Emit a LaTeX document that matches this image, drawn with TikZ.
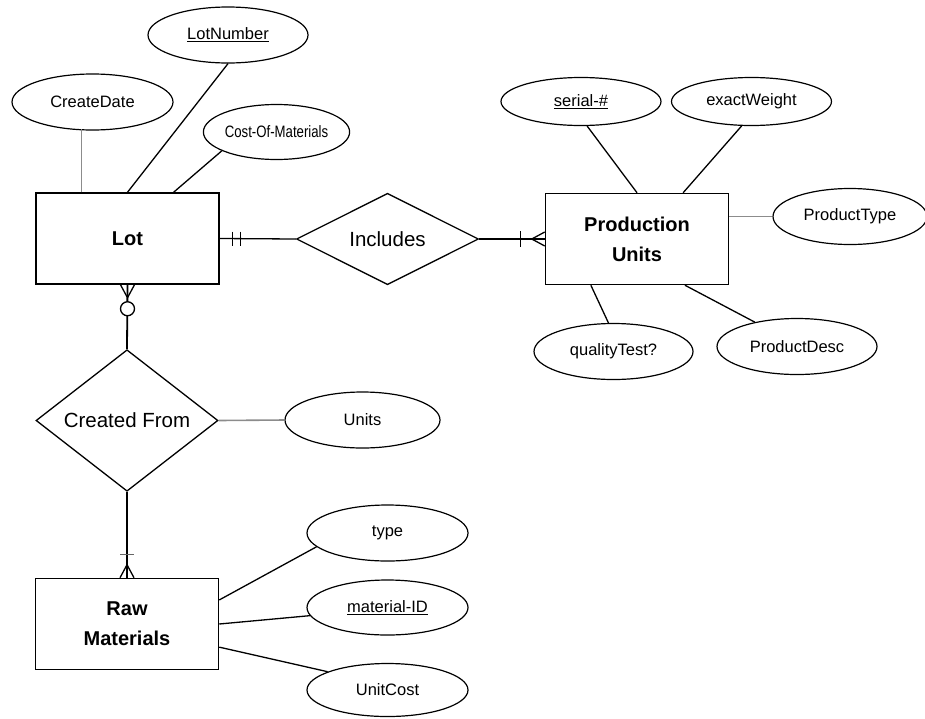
\documentclass[tikz,border=0pt]{standalone}
\usepackage{fontspec}
\usepackage{graphicx}
\setmainfont{Liberation Sans}
\usetikzlibrary{shapes.geometric,calc}

\tikzset{
  entity/.style={draw=black, line width=1.5pt, rectangle, minimum width=183pt,
    minimum height=91pt, inner sep=0pt, align=center,
    font=\fontsize{20}{30}\selectfont\bfseries},
  relation/.style={draw=black, line width=1.3pt, diamond, minimum width=182pt,
    minimum height=90pt, inner sep=0pt, font=\fontsize{20.5}{24}\selectfont},
  attr/.style={draw=black, line width=1.2pt, ellipse, minimum width=160pt,
    minimum height=56pt, inner sep=0pt, font=\fontsize{16.5}{19}\selectfont},
  link/.style={black, line width=1.3pt},
  softlink/.style={black!45, line width=1.6pt}
}

\begin{document}
\begin{tikzpicture}[x=1pt,y=-1pt]
\useasboundingbox (0,0) rectangle (925,718);
% entities
\node [entity] (lot) at (127.5,238.5) {Lot};
\node [entity] (prod) at (637,239) {Production\\Units};
\node [entity] (raw) at (127,624) {Raw\\Materials};
% relationships
\node [relation] (includes) at (387.5,239) {Includes};
\node [relation] (createdfrom) at (127,420.5) {Created From};
% attributes of Lot
\node [attr] (lotnumber) at (228,35) {\underline{LotNumber}};
\node [attr, minimum width=161pt] (createdate) at (92.5,102) {CreateDate};
\node [attr, minimum width=117pt, minimum height=55pt] (cost) at (276.5,132)
  {\scalebox{0.8}[1]{Cost-Of-Materials}};
% attributes of Production Units
\node [attr, minimum height=48pt] (serial) at (581,101.5) {\underline{serial-\#}};
\node [attr, minimum height=48pt] (exactweight) at (751.5,101.5) {exactWeight};
\node [attr, minimum width=154pt] (producttype) at (850,216.5) {ProductType};
\node [attr, minimum width=159pt] (qualitytest) at (613.5,351.5) {qualityTest?};
\node [attr] (productdesc) at (797,346.5) {ProductDesc};
% attributes of the rest
\node [attr, minimum width=155pt] (units) at (362.5,420) {Units};
\node [attr, minimum width=161pt] (type) at (387.5,533) {type};
\node [attr, minimum width=161pt, minimum height=55pt] (materialid) at (387.5,607.5)
  {\underline{material-ID}};
\node [attr, minimum width=161pt, minimum height=53pt] (unitcost) at (387.5,690) {UnitCost};

% attribute links
\draw [softlink] ($(lot.north west)!0.25!(lot.north east)$) -- ++(0,-63);
\draw [link] (lotnumber.south) -- (lot.north);
\draw [link] (cost.199) -- ($(lot.north west)!0.75!(lot.north east)$);
\draw [link] (serial.-76) -- (prod.north);
\draw [link] (exactweight.-112) -- ($(prod.north west)!0.75!(prod.north east)$);
\draw [softlink] (producttype.west) -- (prod.east |- producttype.west);
\draw [link] ($(prod.south west)!0.25!(prod.south east)$) -- (qualitytest.100);
\draw [link] ($(prod.south west)!0.76!(prod.south east)$) -- (productdesc.150);
\draw [softlink] (createdfrom.east) -- (units.west);
\draw [link] ($(raw.north east)!0.24!(raw.south east)$) -- (type.191);
\draw [link] (raw.east) -- (materialid.186);
\draw [link] ($(raw.north east)!0.75!(raw.south east)$) -- (unitcost.163);

% Lot -- Includes: one and only one
\draw [link] (lot.east) -- (includes.west);
\draw [link] ([xshift=13]lot.east) ++(0,-7) -- ++(0,14);
\draw [link] ([xshift=21]lot.east) ++(0,-7) -- ++(0,14);
% Includes -- Production Units: one or many
\draw [link] (includes.east) -- (prod.west);
\draw [link] ([xshift=-24]prod.west) ++(0,-8) -- ++(0,16);
\draw [link] ([xshift=-13]prod.west) -- ([yshift=-7]prod.west);
\draw [link] ([xshift=-13]prod.west) -- ([yshift=7]prod.west);

% Lot -- Created From: zero or many
\draw [black, line width=1.8pt] (lot.south) -- (createdfrom.north);
\draw [link] ([yshift=-13]lot.south) -- ([xshift=-7]lot.south);
\draw [link] ([yshift=-13]lot.south) -- ([xshift=7]lot.south);
\draw [link, fill=white] ([yshift=-24]lot.south) circle (7);
% Created From -- Raw Materials: one or many
\draw [black, line width=1.8pt] (createdfrom.south) -- (raw.north);
\draw [black!60, line width=1pt] ([yshift=23]raw.north) ++(-7,0) -- ++(14,0);
\draw [link] ([yshift=13]raw.north) -- ([xshift=-7]raw.north);
\draw [link] ([yshift=13]raw.north) -- ([xshift=7]raw.north);
\end{tikzpicture}
\end{document}
